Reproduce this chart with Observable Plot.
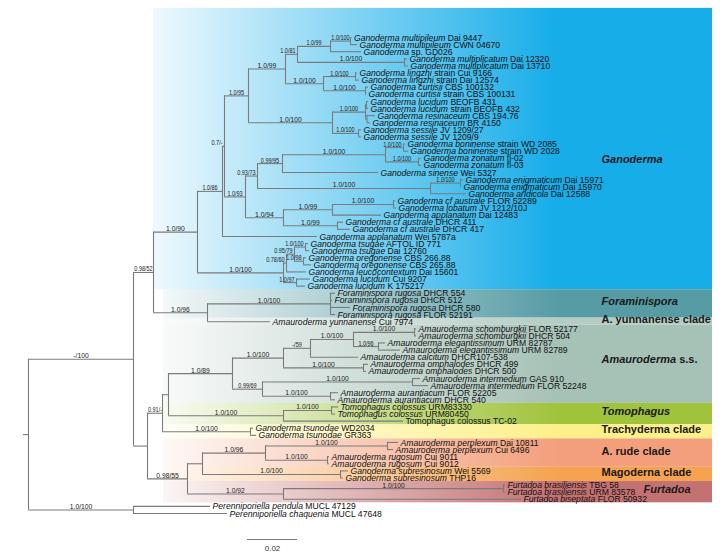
<!DOCTYPE html>
<html><head><meta charset="utf-8">
<script src="https://cdn.jsdelivr.net/npm/d3@7"></script>
<script src="https://cdn.jsdelivr.net/npm/@observablehq/plot@0.6"></script>
<style>
html,body{margin:0;padding:0;background:#fff;}
#chart{width:722px;height:554px;overflow:hidden;}
</style></head><body><div id="chart"></div>
<script>
// ---- Leaf taxa (top to bottom): [italic part, regular part]
const taxa = [
 ["Ganoderma multipileum","Dai 9447"],
 ["Ganoderma multipileum","CWN 04670"],
 ["Ganoderma","sp. GD026"],
 ["Ganoderma multiplicatum","Dai 12320"],
 ["Ganoderma multiplicatum","Dai 13710"],
 ["Ganoderma lingzhi","strain Cui 9166"],
 ["Ganoderma lingzhi","strain Dai 12574"],
 ["Ganoderma curtisii","CBS 100132"],
 ["Ganoderma curtisii","strain CBS 100131"],
 ["Ganoderma lucidum","BEOFB 431"],
 ["Ganoderma lucidum","strain BEOFB 432"],
 ["Ganoderma resinaceum","CBS 194.76"],
 ["Ganoderma resinaceum","BR 4150"],
 ["Ganoderma sessile","JV 1209/27"],
 ["Ganoderma sessile","JV 1209/9"],
 ["Ganoderma boninense","strain WD 2085"],
 ["Ganoderma boninense","strain WD 2028"],
 ["Ganoderma zonatum","fl-02"],
 ["Ganoderma zonatum","fl-03"],
 ["Ganoderma sinense","Wei 5327"],
 ["Ganoderma enigmaticum","Dai 15971"],
 ["Ganoderma enigmaticum","Dai 15970"],
 ["Ganoderma aridicola","Dai 12588"],
 ["Ganoderma cf australe","FLOR 52289"],
 ["Ganoderma lobatum","JV 1212/10J"],
 ["Ganoderma applanatum","Dai 12483"],
 ["Ganoderma cf australe","DHCR 411"],
 ["Ganoderma cf australe","DHCR 417"],
 ["Ganoderma applanatum","Wei 5787a"],
 ["Ganoderma tsugae","AFTOL ID 771"],
 ["Ganoderma tsugae","Dai 12760"],
 ["Ganoderma oregonense","CBS 266.88"],
 ["Ganoderma oregonense","CBS 265.88"],
 ["Ganoderma leucocontextum","Dai 15601"],
 ["Ganoderma lucidum","Cui 9207"],
 ["Ganoderma lucidum","K 175217"],
 ["Foraminispora rugosa","DHCR 554"],
 ["Foraminispora rugosa","DHCR 512"],
 ["Foraminispora rugosa","DHCR 580"],
 ["Foraminispora rugosa","FLOR 52191"],
 ["Amauroderma yunnanense","Cui 7974"],
 ["Amauroderma schomburgkii","FLOR 52177"],
 ["Amauroderma schomburgkii","DHCR 504"],
 ["Amauroderma elegantissimum","URM 82787"],
 ["Amauroderma elegantissimum","URM 82789"],
 ["Amauroderma calcitum","DHCR107-538"],
 ["Amauroderma omphalodes","DHCR 499"],
 ["Amauroderma omphalodes","DHCR 500"],
 ["Amauroderma intermedium","GAS 910"],
 ["Amauroderma intermedium","FLOR 52248"],
 ["Amauroderma aurantiacum","FLOR 52205"],
 ["Amauroderma aurantiacum","DHCR 540"],
 ["Tomophagus colossus","URM83330"],
 ["Tomophagus colossus","URM80450"],
 ["","Tomophagus colossus TC-02"],
 ["Ganoderma tsunodae","WD2034"],
 ["Ganoderma tsunodae","GR363"],
 ["Amauroderma perplexum","Dai 10811"],
 ["Amauroderma perplexum","Cui 6496"],
 ["Amauroderma rugosum","Cui 9011"],
 ["Amauroderma rugosum","Cui 9012"],
 ["Ganoderma subresinosum","Wei 5569"],
 ["Ganoderma subresinosum","THP16"],
 ["Furtadoa brasiliensis","TBG 58"],
 ["Furtadoa brasiliensis","URM 83578"],
 ["Furtadoa biseptata","FLOR 50932"],
 ["Perenniporiella pendula","MUCL 47129"],
 ["Perenniporiella chaquenia","MUCL 47648"]
];

// ---- Tree edges: [child (leaf index or node id), parent, branch length, support PP/BS]
const edges = [
 ["N1","root",0.042,"-/100"], ["OG","root",0.042,"1.0/100"],
 [66,"OG",0.0308,""], [67,"OG",0.0376,""],
 ["N2","N1",0.008,"0.98/52"], ["N3","N2",0.0176,"1.0/90"], ["N4","N3",0.010,"1.0/86"],
 ["N5","N4",0.0008,"0.7/-"], ["N6","N5",0.0096,"1.0/95"], ["N7","N6",0.0148,"1.0/99"],
 ["N8","N7",0.0048,"1.0/81"], ["N9","N8",0.0132,"1.0/99"], ["N10","N9",0.008,"1.0/100"],
 [0,"N10",0.0006,""], [1,"N10",0.0028,""], [2,"N9",0.0124,""],
 ["N11","N8",0.0428,"1.0/100"], [3,"N11",0.0012,""], [4,"N11",0.0016,""],
 ["N12","N7",0.0152,"1.0/100"], ["N13","N12",0.0128,"1.0/100"], [5,"N13",0.0008,""], [6,"N13",0.0016,""],
 ["N14","N12",0.0168,"1.0/100"], [7,"N14",0.0012,""], [8,"N14",0.0004,""],
 ["N15","N6",0.0336,"1.0/100"], ["N16","N15",0.0132,"1.0/100"],
 ["N16a","N16",0.0004,""], [9,"N16a",0.0008,""], [10,"N16a",0.0008,""],
 ["N16b","N16",0.0006,""], [11,"N16b",0.0034,""], [12,"N16b",0.0014,""],
 ["N17","N15",0.0104,"1.0/100"], [13,"N17",0.0012,""], [14,"N17",0.0012,""],
 ["N18","N5",0.0084,"1.0/93"], ["N19","N18",0.0048,"0.93/73"], ["N20","N19",0.010,"0.99/95"],
 ["N21","N20",0.0412,"1.0/100"], ["N22","N21",0.0072,"1.0/100"], [15,"N22",0.0008,""], [16,"N22",0.002,""],
 ["N23","N21",0.0132,"1.0/100"], [17,"N23",0.0012,""], [18,"N23",0.0012,""],
 [19,"N20",0.0384,""],
 ["N24","N19",0.0692,"1.0/100"], ["N24a","N24",0.012,"1.0/100"], [20,"N24a",0.0012,""], [21,"N24a",0.0004,""],
 [22,"N24",0.0144,""],
 ["N25","N18",0.0152,"1.0/94"], ["N26","N25",0.0196,"1.0/99"], ["N27","N26",0.0244,"1.0/100"],
 [23,"N27",0.0008,""], [24,"N27",0.0012,""], [25,"N26",0.0196,""],
 ["N28","N25",0.0216,"1.0/99"], [26,"N28",0.0024,""], [27,"N28",0.0052,""],
 [28,"N4",0.038,""],
 ["N29","N3",0.0344,"1.0/100"], ["N30","N29",0.0012,"0.78/60"], ["N31","N30",0.0032,"0.95/79"],
 ["N32","N31",0.0044,"1.0/100"], [29,"N32",0.0012,""], [30,"N32",0.0016,""],
 ["N33","N31",0.0036,"1.0/98"], [31,"N33",0.0012,""], [32,"N33",0.0032,""],
 [33,"N30",0.008,""],
 ["N34","N29",0.0052,"1.0/97"], [34,"N34",0.0056,""], [35,"N34",0.0036,""],
 ["N35","N2",0.0216,"1.0/96"], ["N36","N35",0.0492,"1.0/100"],
 [36,"N36",0.002,""], [37,"N36",0.0008,""], [38,"N36",0.008,""], [39,"N36",0.002,""],
 [40,"N35",0.0252,""],
 ["N37","N1",0.0056,""], ["N38","N37",0.006,"0.91/-"], ["N39","N38",0.0024,""],
 ["N40","N39",0.0256,"1.0/89"], ["N41","N40",0.0204,"1.0/100"], ["N43","N41",0.0108,"-/59"],
 ["N44","N43",0.0172,"1.0/100"], ["N44a","N44",0.0244,"1.0/100"], [41,"N44a",0.0008,""], [42,"N44a",0.0008,""],
 ["N44b","N44",0.010,"1.0/96"], [43,"N44b",0.0028,""], [44,"N44b",0.0088,""],
 [45,"N43",0.0192,""],
 ["N41b","N41",0.032,"1.0/100"], [46,"N41b",0.002,""], [47,"N41b",0.0012,""],
 ["N42","N40",0.012,"0.99/69"], ["N42a","N42",0.06,"1.0/100"], [48,"N42a",0.0032,""], [49,"N42a",0.0064,""],
 ["N42b","N42",0.0272,"1.0/100"], [50,"N42b",0.0032,""], [51,"N42b",0.002,""],
 ["NT","N39",0.046,"1.0/100"], ["NTa","NT",0.0192,"1.0/100"], [52,"NTa",0.0028,""], [53,"NTa",0.0016,""],
 [54,"NT",0.048,""],
 ["NTr","N38",0.0352,"1.0/100"], [55,"NTr",0.0012,""], [56,"NTr",0.0024,""],
 ["N45","N37",0.016,"0.98/55"], ["N46","N45",0.006,""],
 ["NR","N46",0.0252,"1.0/96"], ["NRa","NR",0.0488,"1.0/100"], [57,"NRa",0.0044,""], [58,"NRa",0.0024,""],
 ["NRb","NR",0.0248,"1.0/100"], [59,"NRb",0.0008,""], [60,"NRb",0.0008,""],
 ["NM","N46",0.0552,"1.0/100"], [61,"NM",0.0032,""], [62,"NM",0.0012,""],
 ["NF","N45",0.0384,"1.0/92"], ["NFa","NF",0.088,"1.0/100"], [63,"NFa",0.0008,""], [64,"NFa",0.0008,""],
 [65,"NF",0.0952,""]
];

// ---- Clades (shaded bands)
const cladeNames   = ["Ganoderma","Foraminispora","A. yunnanense clade","Amauroderma s.s.","Tomophagus","Trachyderma clade","A. rude clade","Magoderna clade","Furtadoa"];
const cladeItalic  = ["Ganoderma","Foraminispora","","Amauroderma","Tomophagus","","","","Furtadoa"];
const cladeFirst   = [0,36,40,41,52,55,57,61,63];
const cladeLast    = [35,39,40,51,54,56,60,62,65];
const cladeColors  = ["#16ade9","#579ca4","#b4ccc4","#a6c1b6","#a0c33c","#fdf08a","#f39f7b","#f5a350","#c47172"];
const scaleBarLength = 0.02;

// ---- layout (px <-> substitutions/site)
const PX = 2500;
const xDomain = [-28/PX, (722-28)/PX];
const rowToY = [37, 513];
const row = (py) => (py - rowToY[0]) / ((rowToY[1]-rowToY[0])/67);
const ux = (px) => (px - 28) / PX;

// ---- build tree geometry
const parentOf = new Map(), lenOf = new Map(), kids = new Map();
for (const [c,p,l] of edges) { parentOf.set(c,p); lenOf.set(c,l); if(!kids.has(p)) kids.set(p,[]); kids.get(p).push(c); }
const depth = new Map([["root",0]]);
function dep(n){ if(depth.has(n)) return depth.get(n); const d = dep(parentOf.get(n)) + lenOf.get(n); depth.set(n,d); return d; }
const yMemo = new Map();
function yy(n){ if (typeof n === "number") return n; if(yMemo.has(n)) return yMemo.get(n); const ys = kids.get(n).map(yy); const v=(Math.min(...ys)+Math.max(...ys))/2; yMemo.set(n,v); return v; }

const hSegs = edges.map(([c,p]) => ({x1: dep(p), x2: dep(c), y: yy(c)}));
hSegs.push({x1: -0.002, x2: 0, y: yy("root")});
const vSegs = [...kids.keys()].map(n => { const ys = kids.get(n).map(yy); return {x: dep(n), y1: Math.min(...ys), y2: Math.max(...ys)}; });

const cw = {".":0.278,"/":0.278,"-":0.333};
const estW = (s, fs) => [...s].reduce((a,ch)=>a+(cw[ch]||0.556),0)*fs*0.9;
const supports = edges.filter(e => e[3]).map(([c,p,l,s]) => {
  const lenPx = l*PX, fs = lenPx >= 36 ? 8 : 6.5;
  const fits = estW(s, fs) <= lenPx;
  return {text: s, fs, fits, y: yy(c), x: fits ? (dep(p)+dep(c))/2 : dep(c) - 2/PX};
});

const leaves = taxa.map((t,i) => ({x: dep(i), y: i, label: (t[0] ? t[0] + " " : "") + t[1]}));

const bands = cladeNames.map((n,i) => ({
  i, x1: ux(i === 0 ? 153 : 163), x2: ux(712),
  y1: (i === 0 ? cladeFirst[i] - 4.1 : cladeFirst[i] - 0.5), y2: cladeLast[i] + 0.5,
  lx: ux(n === "Furtadoa" ? 643 : 601),
  ly: (cladeFirst[i] + cladeLast[i]) / 2 - (n === "Furtadoa" ? 0.45 : n === "Amauroderma s.s." ? 0.7 : 0.3),
  name: n
}));

const FONT = "'Liberation Sans', Arial, Helvetica, sans-serif";
const gradDefs = () => {
  const defs = d3.create("svg:defs");
  cladeColors.forEach((c,i) => {
    const g = defs.append("linearGradient").attr("id","band"+i).attr("x1",0).attr("x2",1).attr("y1",0).attr("y2",0);
    g.append("stop").attr("offset",0).attr("stop-color",c).attr("stop-opacity",0.07);
    g.append("stop").attr("offset",0.72).attr("stop-color",c).attr("stop-opacity",1);
    g.append("stop").attr("offset",1).attr("stop-color",c).attr("stop-opacity",1);
  });
  return defs.node();
};

const lineColor = "#7b7b7b";
const sbX1 = ux(247);
const supMark = (data, fs, anchor) => Plot.text(data, {x: "x", y: "y", text: "text", fontSize: fs, fontFamily: FONT, textAnchor: anchor, lineAnchor: "bottom", dy: -1, fill: "#222"});
const svg = Plot.plot({
  width: 722, height: 554, margin: 0,
  style: {fontFamily: FONT, background: "white"},
  x: {domain: xDomain, range: [0, 722], axis: null},
  y: {domain: [0, 67], range: rowToY, axis: null},
  marks: [
    gradDefs,
    ...bands.map(b => Plot.rect([b], {x1: "x1", x2: "x2", y1: "y1", y2: "y2", fill: `url(#band${b.i})`})),
    Plot.ruleY(hSegs, {y: "y", x1: "x1", x2: "x2", stroke: lineColor, strokeWidth: 1.1}),
    Plot.ruleX(vSegs, {x: "x", y1: "y1", y2: "y2", stroke: lineColor, strokeWidth: 1.1}),
    supMark(supports.filter(d => d.fits && d.fs === 8), 8, "middle"),
    supMark(supports.filter(d => d.fits && d.fs !== 8), 6.5, "middle"),
    supMark(supports.filter(d => !d.fits && d.fs === 8), 8, "end"),
    supMark(supports.filter(d => !d.fits && d.fs !== 8), 6.5, "end"),
    Plot.text(leaves, {x: "x", y: "y", text: "label", fontSize: 9.6, fontFamily: FONT, textAnchor: "start", dx: 2, fill: "#111"}),
    Plot.text(bands, {x: "lx", y: "ly", text: "name", fontSize: 11, fontFamily: FONT, fontWeight: "bold", textAnchor: "start", fill: "#1a1a1a"}),
    Plot.ruleY([row(539)], {x1: sbX1, x2: sbX1 + scaleBarLength, stroke: lineColor, strokeWidth: 1}),
    Plot.text([String(scaleBarLength)], {x: sbX1 + scaleBarLength/2, y: row(548), text: d => d, fontSize: 8, fontFamily: FONT, textAnchor: "middle", fill: "#333"})
  ]
});
document.getElementById("chart").appendChild(svg);

// ---- classify texts by content, add italic runs, condense to the reference's narrow lettering
const leafIdx = new Map(leaves.map((d,i) => [d.label, i]));
const cladeIdx = new Map(cladeNames.map((n,i) => [n, i]));
const leafEls = [], supEls = [], cladeEls = [];
svg.querySelectorAll("text").forEach(el => {
  const t = el.textContent;
  if (leafIdx.has(t)) leafEls.push([el, leafIdx.get(t)]);
  else if (cladeIdx.has(t)) cladeEls.push([el, cladeIdx.get(t)]);
  else if (/^[\d.\-]+\/[\d\-]+$/.test(t)) supEls.push(el);
});
function splitRuns(el, italic, rest){
  const s = d3.select(el); s.text(null);
  if (italic) s.append("tspan").attr("font-style","italic").text(italic);
  if (rest) s.append("tspan").text(rest);
}
function squeeze(el, s){ el.setAttribute("transform", `${el.getAttribute("transform") || ""} scale(${s},1)`); }
for (const [el,i] of leafEls) splitRuns(el, taxa[i][0], (taxa[i][0] ? " " : "") + taxa[i][1]);
for (const [el,i] of cladeEls) { const it = cladeItalic[i]; splitRuns(el, it, it ? cladeNames[i].slice(it.length) : cladeNames[i]); }

const leafTargets = {28: 134, 20: 140, 67: 152, 65: 125};
const ratios = leafEls.filter(([,i]) => leafTargets[i]).map(([el,i]) => leafTargets[i] / el.getBBox().width).filter(isFinite);
const leafSqueeze = ratios.length ? d3.mean(ratios) : 0.89;
for (const [el] of leafEls) squeeze(el, leafSqueeze);
const ref = supEls.find(el => el.textContent === "1.0/100" && el.closest("g").getAttribute("font-size") !== "6.5");
let supSqueeze = 0.9;
if (ref) { const w = ref.getBBox().width; if (w > 0) supSqueeze = Math.min(1, 23 / w); }
for (const el of supEls) squeeze(el, supSqueeze);
const gEl = cladeEls.find(([,i]) => i === 0);
if (gEl) { const w = gEl[0].getBBox().width; if (w > 0 && Math.abs(61 / w - 1) > 0.04) for (const [el] of cladeEls) squeeze(el, 61 / w); }
</script></body></html>
